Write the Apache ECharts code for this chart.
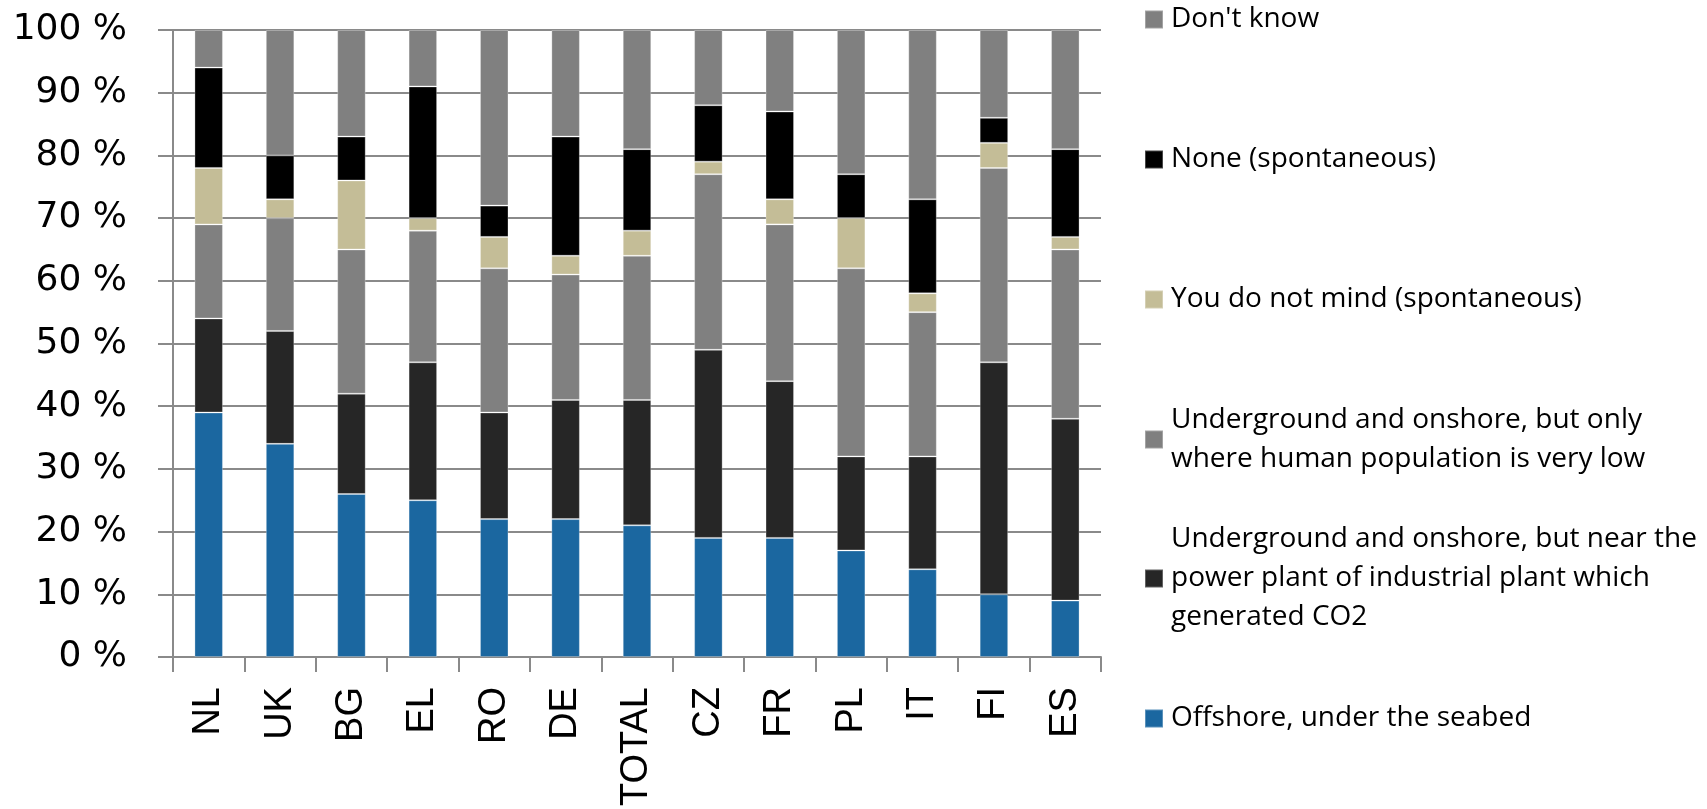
<!DOCTYPE html>
<html>
<head>
<meta charset="utf-8">
<script src="https://cdn.jsdelivr.net/npm/echarts@6/dist/echarts.min.js"></script>
<style>
  html, body { margin: 0; padding: 0; background: #ffffff; }
  #chart { width: 1707px; height: 809px; }
</style>
</head>
<body>
<div id="chart"></div>
<script>
// Countries along the x axis
const categories = ['NL', 'UK', 'BG', 'EL', 'RO', 'DE', 'TOTAL', 'CZ', 'FR', 'PL', 'IT', 'FI', 'ES'];

// Shares per answer (%), bottom of the stack first
const offshore      = [39, 34, 26, 25, 22, 22, 21, 19, 19, 17, 14, 10, 9];
const nearPlant     = [15, 18, 16, 22, 17, 19, 20, 30, 25, 15, 18, 37, 29];
const lowPopulation = [15, 18, 23, 21, 23, 20, 23, 28, 25, 30, 23, 31, 27];
const doNotMind     = [9, 3, 11, 2, 5, 3, 4, 2, 4, 8, 3, 4, 2];
const noneSpont     = [16, 7, 7, 21, 5, 19, 13, 9, 14, 7, 15, 4, 14];
const dontKnow      = [6, 20, 17, 9, 28, 17, 19, 12, 13, 23, 27, 14, 19];

// Answer labels and their wrapped legend text
const seriesNames = [
  'Offshore, under the seabed',
  'Underground and onshore, but near the power plant of industrial plant which generated CO2',
  'Underground and onshore, but only where human population is very low',
  'You do not mind (spontaneous)',
  'None (spontaneous)',
  "Don't know"
];
const legendText = [
  'Offshore, under the seabed',
  'Underground and onshore, but near the\npower plant of industrial plant which\ngenerated CO2',
  'Underground and onshore, but only\nwhere human population is very low',
  'You do not mind (spontaneous)',
  'None (spontaneous)',
  "Don't know"
];
const seriesData = [offshore, nearPlant, lowPopulation, doNotMind, noneSpont, dontKnow];
const colors = ['#1b67a0', '#262626', '#808080', '#c4bd97', '#000000', '#808080'];

// Y axis range and step (%)
const yMin = 0, yMax = 100, yStep = 10;

const LINE_H = 39;
// legend layout: vertical centre of each entry's first line
const legendFirstLineY = [718, 578, 439, 299, 159, 19];

const chart = echarts.init(document.getElementById('chart'));

const legends = seriesNames.map((name, i) => {
  const lines = legendText[i].split('\n').length;
  const padTop = (lines - 1) * LINE_H;
  const boxH = padTop + lines * LINE_H;
  return {
    data: [name],
    orient: 'vertical',
    left: 1144,
    top: Math.round(legendFirstLineY[i] - boxH / 2),
    padding: 0,
    itemWidth: 18,
    itemHeight: 18,
    icon: 'rect',
    selectedMode: false,
    formatter: () => legendText[i],
    textStyle: {
      fontFamily: 'Open Sans',
      fontSize: 28,
      color: '#000000',
      lineHeight: LINE_H,
      padding: [padTop, 0, 0, 3]
    }
  };
});

const series = seriesNames.map((name, i) => ({
  name: name,
  type: 'bar',
  stack: 'total',
  barWidth: 28.5,
  data: seriesData[i],
  itemStyle: {
    color: colors[i],
    borderColor: 'rgba(255,255,255,0.28)',
    borderWidth: 1
  }
}));

chart.setOption({
  animation: false,
  backgroundColor: '#ffffff',
  grid: { left: 173, right: 606, top: 30, bottom: 151, containLabel: false },
  legend: legends,
  xAxis: {
    type: 'category',
    data: categories,
    boundaryGap: true,
    axisLine: { show: true, lineStyle: { color: '#8a8a8a', width: 2 } },
    axisTick: { show: true, length: 15, lineStyle: { color: '#8a8a8a', width: 2 } },
    axisLabel: {
      rotate: 90,
      margin: 30,
      fontFamily: 'Liberation Sans',
      fontSize: 38,
      color: '#000000'
    },
    splitLine: { show: false }
  },
  yAxis: {
    type: 'value',
    min: yMin,
    max: yMax,
    interval: yStep,
    axisLine: { show: true, lineStyle: { color: '#8a8a8a', width: 2 } },
    axisTick: { show: true, length: 15, lineStyle: { color: '#8a8a8a', width: 2 } },
    axisLabel: {
      margin: 46,
      fontFamily: 'DejaVu Sans',
      fontSize: 36,
      color: '#000000',
      formatter: v => v + ' %'
    },
    splitLine: { show: true, lineStyle: { color: '#8a8a8a', width: 2 } }
  },
  series: series
});
</script>
</body>
</html>
